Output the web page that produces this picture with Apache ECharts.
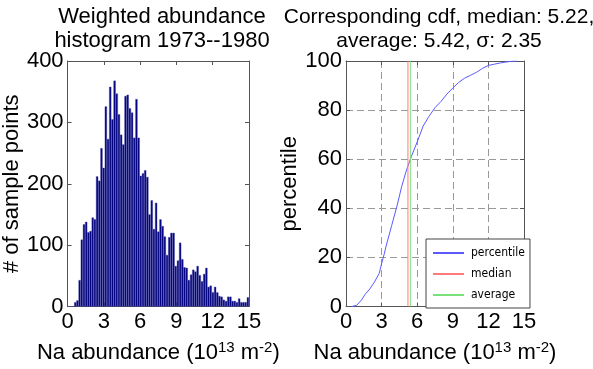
<!DOCTYPE html>
<html>
<head>
<meta charset="utf-8">
<script src="https://cdn.jsdelivr.net/npm/echarts@6/dist/echarts.min.js"></script>
<style>
  html, body { margin: 0; padding: 0; background: #fff; }
  #chart { width: 593px; height: 369px; }
</style>
</head>
<body>
<div id="chart"></div>
<script>
// histogram counts, 83 bins over 0..15
const binCounts = [0, 0, 0,
  7, 10, 43, 109, 134, 138, 121, 123, 145, 142, 212, 205, 258, 226, 326, 273, 358, 305, 368, 347, 313, 280, 264, 343,
  345, 323, 316, 275, 338, 275, 213, 217, 222, 211, 150, 173, 126, 169, 122, 142, 131, 114, 84, 113, 120, 120, 66, 75, 104, 77, 64, 63,
  43, 52, 60, 57, 66, 51, 41, 53, 63, 32, 34, 23, 32, 23, 17, 16, 11, 9, 16, 16, 9, 9, 7, 13, 7, 7, 7, 15]
const binNames = binCounts.map((v, i) => 'b' + i)

// cdf curve
const cdfX = [0.5, 0.9, 1.3, 1.6, 2.0, 2.4, 2.8, 3.0, 3.2, 3.4, 3.85, 4.3, 4.7, 5.0, 5.2, 5.5, 6.0, 6.5, 7.0, 7.5,
  8.0, 8.5, 9.0, 9.5, 10, 10.5, 11, 11.5, 12, 12.5, 13, 13.5, 14.0, 14.4]
const cdfY = [0, 0.5, 2.6, 4.9, 7.1, 10, 13.5, 17.5, 21, 25, 33, 41, 49, 54, 57, 61, 67, 73.5, 77.5, 81,
  83.5, 86.5, 89, 91.3, 93, 94.2, 95.4, 97, 98.2, 98.7, 99.2, 99.6, 99.9, 100]

const medianVal = 5.22
const averageVal = 5.42

const font = 'Liberation Sans, Arial, sans-serif'
const axisColor = '#555'
const cdfColor = '#5a5aff'
const medianColor = '#ff7a7a'
const averageColor = '#7ae07a'

function boxAxis(gridIndex, position, max, interval) {
  return {
    type: 'value', gridIndex: gridIndex, position: position, min: 0, max: max, interval: interval,
    axisLine: {show: true, onZero: false, lineStyle: {color: axisColor}},
    axisTick: {show: true, inside: true, length: 4, lineStyle: {color: axisColor}},
    axisLabel: {show: false},
    splitLine: {show: false}
  }
}

const xName = '{n|Na abundance (10}{s|13}{n| m}{s|-2}{n|)}'
const nameRich = {
  n: {fontSize: 22, fontFamily: font, color: '#000'},
  s: {fontSize: 15, fontFamily: font, color: '#000', verticalAlign: 'top', padding: [0, 0, 10, 0]}
}

const option = {
  animation: false,
  title: [
    {
      text: 'Weighted abundance\nhistogram 1973--1980',
      left: 157, top: 0, textAlign: 'center',
      textStyle: {fontSize: 22, fontWeight: 'normal', fontFamily: font, color: '#000', lineHeight: 24}
    },
    {
      text: 'Corresponding cdf, median: ' + medianVal + ',\naverage: ' + averageVal + ', σ: 2.35',
      left: 434, top: 0, textAlign: 'center',
      textStyle: {fontSize: 21, fontWeight: 'normal', fontFamily: font, color: '#000', lineHeight: 24, align: 'center'}
    }
  ],
  legend: {
    orient: 'vertical',
    left: 426, top: 239,
    icon: 'rect',
    itemWidth: 31, itemHeight: 2, itemGap: 9,
    padding: [8, 5, 7, 7],
    backgroundColor: '#fff',
    borderColor: '#444', borderWidth: 1,
    textStyle: {
      fontSize: 12, color: '#000', padding: [0, 0, 0, 2],
      fontFamily: 'Liberation Sans Narrow, DejaVu Sans Condensed, Liberation Sans, sans-serif'
    },
    data: [
      {name: 'percentile', itemStyle: {color: cdfColor}},
      {name: 'median', itemStyle: {color: medianColor}},
      {name: 'average', itemStyle: {color: averageColor}}
    ]
  },
  grid: [
    {left: 66, top: 61, width: 183, height: 253},
    {left: 346, top: 61, width: 178, height: 253}
  ],
  xAxis: [
    {
      type: 'value', gridIndex: 0, min: 0, max: 15, interval: 3,
      name: xName, nameLocation: 'middle', nameGap: 34,
      nameTextStyle: {rich: nameRich},
      axisLine: {onZero: false, lineStyle: {color: axisColor}},
      axisTick: {inside: true, length: 4, lineStyle: {color: axisColor}},
      axisLabel: {fontSize: 22, fontFamily: font, color: '#000', margin: 4},
      splitLine: {show: false}
    },
    {
      type: 'category', gridIndex: 0, data: binNames, show: false, boundaryGap: true
    },
    boxAxis(0, 'top', 15, 3),
    {
      type: 'value', gridIndex: 1, min: 0, max: 15, interval: 3,
      name: xName, nameLocation: 'middle', nameGap: 34,
      nameTextStyle: {rich: nameRich},
      axisLine: {onZero: false, lineStyle: {color: axisColor}},
      axisTick: {inside: true, length: 4, lineStyle: {color: axisColor}},
      axisLabel: {fontSize: 22, fontFamily: font, color: '#000', margin: 4},
      splitLine: {show: true, lineStyle: {color: '#999', type: [7, 4]}}
    },
    boxAxis(1, 'top', 15, 3)
  ],
  yAxis: [
    {
      type: 'value', gridIndex: 0, min: 0, max: 400, interval: 100,
      name: '# of sample points', nameLocation: 'middle', nameGap: 34,
      nameTextStyle: {fontSize: 22, fontFamily: font, color: '#000'},
      axisLine: {show: true, lineStyle: {color: axisColor}},
      axisTick: {show: true, inside: true, length: 4, lineStyle: {color: axisColor}},
      axisLabel: {fontSize: 22, fontFamily: font, color: '#000', margin: 4},
      splitLine: {show: false}
    },
    boxAxis(0, 'right', 400, 100),
    {
      type: 'value', gridIndex: 1, min: 0, max: 100, interval: 20,
      name: 'percentile', nameLocation: 'middle', nameGap: 34,
      nameTextStyle: {fontSize: 22, fontFamily: font, color: '#000'},
      axisLine: {show: true, lineStyle: {color: axisColor}},
      axisTick: {show: true, inside: true, length: 4, lineStyle: {color: axisColor}},
      axisLabel: {fontSize: 22, fontFamily: font, color: '#000', margin: 4},
      splitLine: {show: true, lineStyle: {color: '#999', type: [7, 4]}}
    },
    boxAxis(1, 'right', 100, 20)
  ],
  series: [
    {
      name: 'counts', type: 'bar', xAxisIndex: 1, yAxisIndex: 0,
      data: binCounts, barCategoryGap: '0%',
      itemStyle: {color: '#000080', borderColor: '#4a4aa0', borderWidth: 0.4}
    },
    {
      name: 'percentile', type: 'line', xAxisIndex: 3, yAxisIndex: 2,
      data: cdfX.map((x, i) => [x, cdfY[i]]),
      symbol: 'none', showSymbol: false,
      lineStyle: {color: cdfColor, width: 1}, itemStyle: {color: cdfColor}
    },
    {
      name: 'median', type: 'line', xAxisIndex: 3, yAxisIndex: 2,
      data: [[medianVal, 0], [medianVal, 100]],
      symbol: 'none', showSymbol: false,
      lineStyle: {color: medianColor, width: 1}, itemStyle: {color: medianColor}
    },
    {
      name: 'average', type: 'line', xAxisIndex: 3, yAxisIndex: 2,
      data: [[averageVal, 0], [averageVal, 100]],
      symbol: 'none', showSymbol: false,
      lineStyle: {color: averageColor, width: 1}, itemStyle: {color: averageColor}
    }
  ]
}

const chart = echarts.init(document.getElementById('chart'))
chart.setOption(option)
window.addEventListener('resize', function () {
  chart.resize()
})
</script>
</body>
</html>
